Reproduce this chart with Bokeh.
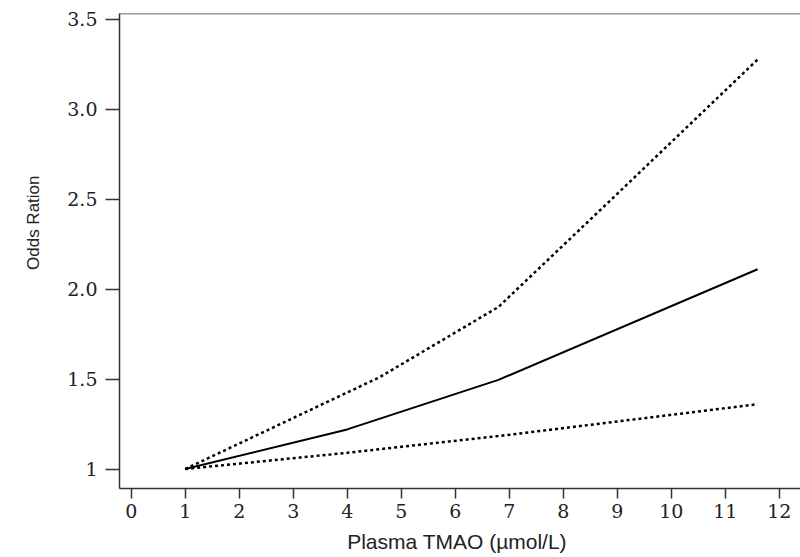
from bokeh.plotting import figure
from bokeh.models import FixedTicker, Span, Range1d, Title
from bokeh.embed import file_html
from bokeh.resources import INLINE

# Data
x_ticks = [0, 1, 2, 3, 4, 5, 6, 7, 8, 9, 10, 11, 12]
y_ticks = [1, 1.5, 2.0, 2.5, 3.0, 3.5]
y_tick_labels = ["1", "1.5", "2.0", "2.5", "3.0", "3.5"]

or_x = [1.0, 4.0, 6.8, 11.6]
or_y = [1.0, 1.22, 1.495, 2.11]

upper_x = [1.0, 4.6, 6.8, 8.9, 11.6]
upper_y = [1.0, 1.51, 1.90, 2.50, 3.275]

lower_x = [1.0, 4.0, 7.0, 11.6]
lower_y = [1.0, 1.09, 1.19, 1.36]

W, H = 800, 557
X_START, X_END = -0.2167, 12.394
Y_START, Y_END = 0.8917, 3.5306

p = figure(width=W, height=H, output_backend="svg", toolbar_location=None,
           x_range=Range1d(X_START, X_END), y_range=Range1d(Y_START, Y_END),
           min_border_left=119, min_border_right=0, min_border_top=13, min_border_bottom=69)
p.outline_line_color = None
p.xgrid.visible = False
p.ygrid.visible = False
p.background_fill_color = "white"
p.border_fill_color = "white"

axis_color = "#333333"
tick_font = "DejaVu Serif"

for ax in (p.xaxis[0], p.yaxis[0]):
    ax.axis_line_color = axis_color
    ax.axis_line_width = 1.5
    ax.major_tick_line_color = axis_color
    ax.major_tick_line_width = 1.5
    ax.major_tick_in = 0
    ax.minor_tick_line_color = None
    ax.major_label_text_font = tick_font
    ax.major_label_text_font_size = "19px"
    ax.major_label_text_color = "#222222"

p.xaxis.ticker = FixedTicker(ticks=x_ticks)
p.xaxis.major_tick_out = 10
p.xaxis.major_label_standoff = 5
p.xaxis.axis_label = "Plasma  TMAO (\u00b5mol/L)"
p.xaxis.axis_label_text_font = "Liberation Sans"
p.xaxis.axis_label_text_font_style = "normal"
p.xaxis.axis_label_text_font_size = "21px"
p.xaxis.axis_label_text_color = "#222222"
p.xaxis.axis_label_standoff = 9

p.yaxis.ticker = FixedTicker(ticks=y_ticks)
p.yaxis.major_label_overrides = {t: l for t, l in zip(y_ticks, y_tick_labels)}
p.yaxis.major_tick_out = 14
p.yaxis.major_label_standoff = 8

# top frame line
p.add_layout(Span(location=Y_END, dimension="width", line_color=axis_color, line_width=1.5))

p.line(or_x, or_y, line_color="black", line_width=2)
p.line(upper_x, upper_y, line_color="black", line_width=2.5, line_dash="3 3")
p.line(lower_x, lower_y, line_color="black", line_width=2.5, line_dash="3 3")

p.add_layout(Title(text="Odds Ration", align="right", offset=162, standoff=43,
                   text_font="Liberation Sans", text_font_size="17px",
                   text_font_style="normal", text_color="#222222"), "left")

open("out.html", "w").write(file_html(p, INLINE))
